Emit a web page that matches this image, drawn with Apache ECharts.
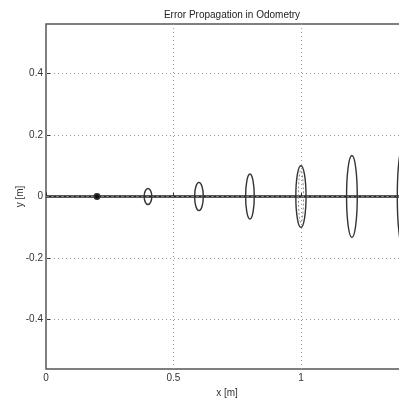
<!DOCTYPE html>
<html><head><meta charset="utf-8">
<script src="https://cdn.jsdelivr.net/npm/echarts@6/dist/echarts.min.js"></script>
<style>html,body{margin:0;padding:0;background:#fff}#c{width:399px;height:399px}</style>
</head><body><div id="c"></div>
<script>
var title = 'Error Propagation in Odometry';
var xTicks = [0, 0.5, 1];
var yTicks = [-0.4, -0.2, 0, 0.2, 0.4];
// ellipse centers (x), half-widths (rx) and half-heights (ry) in metres
var ellX  = [0.2,   0.4,   0.6,   0.8,   1.0,   1.2,   1.4];
var ellRx = [0.011, 0.015, 0.017, 0.017, 0.02,  0.021, 0.022];
var ellRy = [0.009, 0.026, 0.046, 0.073, 0.10,  0.133, 0.163];
var ellFilled = [true, false, false, false, false, false, false];
// inner dotted ellipse
var innerX = [1.0], innerRx = [0.01], innerRy = [0.085];
// path along x axis
var pathX = [0, 1.42];
var pathY = [0, 0];

var chart = echarts.init(document.getElementById('c'));
function ellipseItem(dashed){
  return function(params, api){
    var c = api.coord([api.value(0), 0]);
    var s = api.size([api.value(1), api.value(2)]);
    var filled = !dashed && ellFilled[params.dataIndex];
    return {type:'ellipse', shape:{cx:c[0], cy:c[1], rx:s[0], ry:s[1]},
      style:{fill: filled ? '#111' : 'none', stroke: dashed ? '#888' : '#333', lineWidth: dashed?1:1.4, lineDash: dashed?[2,2]:null}};
  };
}
var gridLineData = yTicks.filter(function(v){return v!==0;}).map(function(v){return {yAxis:v};})
  .concat(xTicks.filter(function(v){return v!==0;}).map(function(v){return {xAxis:v};}));
var lbl = {fontFamily:'Liberation Sans', fontSize:10, color:'#333'};
chart.setOption({
  animation:false,
  title:{text:title, left:227, top:5, textAlign:'center', textStyle:{fontFamily:'Liberation Sans', fontSize:10, fontWeight:'normal', color:'#222'}},
  grid:{left:46, right:-9, top:24, bottom:30, show:true, borderColor:'#555', borderWidth:1.5, containLabel:false, outerBoundsMode:'none'},
  xAxis:{type:'value', min:0, max:1.42, name:'x [m]', nameLocation:'middle', nameGap:19, nameMoveOverlap:false,
    nameTextStyle:{fontFamily:'Liberation Sans', fontSize:10, color:'#333', padding:0, verticalAlign:'top'},
    axisLine:{show:false},
    axisTick:{show:true, inside:true, length:4, customValues:xTicks, lineStyle:{color:'#333'}},
    axisLabel:Object.assign({margin:4, customValues:xTicks, formatter:function(v){return String(v);}}, lbl),
    splitLine:{show:false}},
  yAxis:{type:'value', min:-0.56, max:0.56, name:'y [m]', nameLocation:'middle', nameGap:26, nameRotate:90, nameMoveOverlap:false,
    nameTextStyle:{fontFamily:'Liberation Sans', fontSize:10, color:'#333', padding:0, verticalAlign:'middle'},
    axisLine:{show:false},
    axisTick:{show:true, inside:true, length:4, customValues:yTicks, lineStyle:{color:'#333'}},
    axisLabel:Object.assign({margin:3, customValues:yTicks, formatter:function(v){return String(Math.round(v*10)/10);}}, lbl),
    splitLine:{show:false}},
  series:[
    {type:'line', data:pathX.map(function(x,i){return [x,pathY[i]];}), symbol:'none', lineStyle:{color:'#222', width:2.5}, z:3,
      markLine:{silent:true, symbol:'none', label:{show:false}, lineStyle:{color:'#999', type:[1,3], width:1}, data:gridLineData, z:1}},
    {type:'line', data:pathX.map(function(x,i){return [x,pathY[i]];}), symbol:'none', lineStyle:{color:'#777', width:1, type:[3,2]}, z:4},
    {type:'custom', renderItem:ellipseItem(false), data:ellX.map(function(x,i){return [x, ellRx[i], ellRy[i]];}), clip:true, z:5},
    {type:'custom', renderItem:ellipseItem(true), data:innerX.map(function(x,i){return [x, innerRx[i], innerRy[i]];}), clip:true, z:5}
  ]
});
</script></body></html>
